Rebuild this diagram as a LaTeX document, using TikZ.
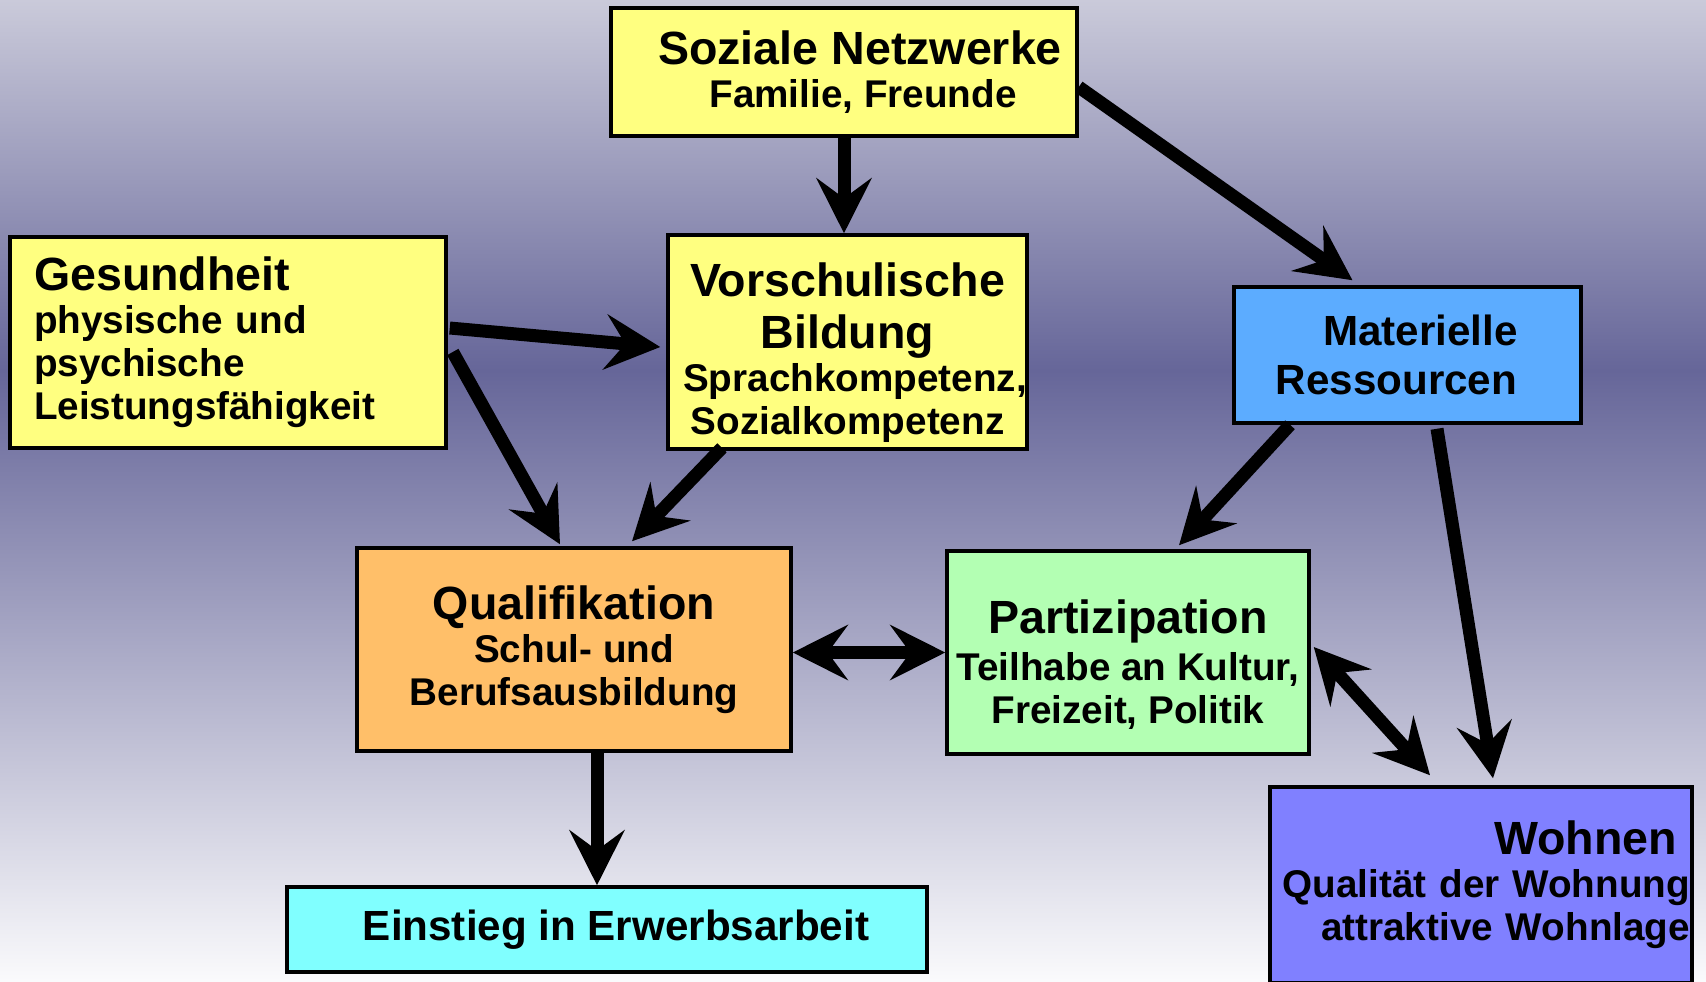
\documentclass[tikz,border=0pt]{standalone}
\usepackage{fontspec}
\setmainfont{Liberation Sans}
\usetikzlibrary{arrows.meta}

\definecolor{bgtop}{RGB}{202,202,218}
\definecolor{bgmid}{RGB}{102,102,153}
\definecolor{bgbot}{RGB}{250,250,252}
\definecolor{yel}{RGB}{255,255,128}
\definecolor{matblue}{RGB}{92,172,255}
\definecolor{quaorange}{RGB}{255,191,105}
\definecolor{pargreen}{RGB}{179,255,179}
\definecolor{wohviolet}{RGB}{128,128,255}
\definecolor{eincyan}{RGB}{128,255,255}

\newcommand{\boxtitle}[1]{{\fontsize{26.5}{29.5}\selectfont #1}}

\begin{document}
\begin{tikzpicture}[
    box/.style={draw,line width=2pt,inner sep=0pt,align=center,font=\bfseries\fontsize{22}{24.5}\selectfont},
    arr/.style={-{Stealth[length=1.1cm,width=1.1cm,inset=0.4cm]},line width=0.26cm},
    darr/.style={{Stealth[length=1.1cm,width=1.1cm,inset=0.4cm]}-{Stealth[length=1.1cm,width=1.1cm,inset=0.4cm]},line width=0.26cm}
]
\useasboundingbox (0,0) rectangle (34.12,-19.62);
\shade[top color=bgtop,bottom color=bgmid] (0,0) rectangle (34.12,-7.4);
\shade[top color=bgmid,bottom color=bgbot] (0,-7.4) rectangle (34.12,-19.62);

\node[box,fill=yel,minimum width=9.32cm,minimum height=2.56cm] (soz) at (16.88,-1.44) {\hspace*{0.64cm}\boxtitle{Soziale Netzwerke}\\\hspace*{0.76cm}Familie, Freunde};
\node[box,fill=yel,minimum width=7.18cm,minimum height=4.28cm] (vor) at (16.95,-6.84) {\boxtitle{\rule{0pt}{31.5pt}Vorschulische}\\[5pt]\boxtitle{Bildung}\\\hspace*{0.3cm}Sprachkompetenz,\\Sozialkompetenz};
\node[box,fill=yel,align=left,text width=7.76cm,inner xsep=0.48cm,minimum height=4.22cm] (ges) at (4.56,-6.85) {\boxtitle{Gesundheit}\\physische und\\psychische\\Leistungsfähigkeit};
\node[box,fill=matblue,minimum width=6.94cm,minimum height=2.72cm,font=\bfseries\fontsize{24}{27.8}\selectfont] (mat) at (28.15,-7.10) {\hspace*{0.52cm}Materielle\\Ressourcen\kern0.44cm};
\node[box,fill=quaorange,minimum width=8.68cm,minimum height=4.06cm] (qua) at (11.48,-12.99) {\boxtitle{Qualifikation}\\Schul- und\\Berufsausbildung};
\node[box,fill=pargreen,minimum width=7.24cm,minimum height=4.06cm] (par) at (22.56,-13.05) {\boxtitle{\rule{0pt}{33pt}Partizipation}\\[2pt]Teilhabe an Kultur,\\Freizeit, Politik};
\node[box,fill=wohviolet,align=right,text width=8.36cm,inner xsep=0.04cm,minimum height=3.92cm] (woh) at (29.62,-17.70) {\boxtitle{Wohnen\kern0.26cm}\\Qualität der Wohnung\\attraktive Wohnlage};
\node[box,fill=eincyan,minimum width=12.8cm,minimum height=1.7cm,font=\bfseries\fontsize{24}{27}\selectfont] (ein) at (12.14,-18.59) {\hspace*{0.36cm}Einstieg in Erwerbsarbeit};

\coordinate (q2e) at ([xshift=0.46cm]qua.south);

\draw[arr] (soz.south) -- (soz.south |- vor.north);
\draw[arr] ([yshift=-0.3cm]soz.east) -- ([xshift=-1.1cm,yshift=0.1cm]mat.north);
\draw[arr] ([xshift=0.04cm,yshift=0.29cm]ges.east) -- ([xshift=-0.12cm,yshift=-0.1cm]vor.west);
\draw[arr] ([xshift=0.1cm,yshift=-0.19cm]ges.east) -- ([xshift=-0.28cm,yshift=0.04cm]qua.north);
\draw[arr] ([xshift=-2.51cm,yshift=0.06cm]vor.south) -- ([xshift=1.16cm,yshift=0.1cm]qua.north);
\draw[arr] ([xshift=-2.35cm]mat.south) -- ([xshift=1.02cm,yshift=0.08cm]par.north);
\draw[arr] ([xshift=0.59cm,yshift=-0.08cm]mat.south) -- ([xshift=0.24cm,yshift=0.14cm]woh.north);
\draw[darr] (qua.east |- par.west) -- (par.west);
\draw[darr] ([xshift=0.06cm,yshift=0.11cm]par.east) -- ([xshift=-1.02cm,yshift=0.2cm]woh.north);
\draw[arr] (q2e) -- (q2e |- ein.north);
\end{tikzpicture}
\end{document}
